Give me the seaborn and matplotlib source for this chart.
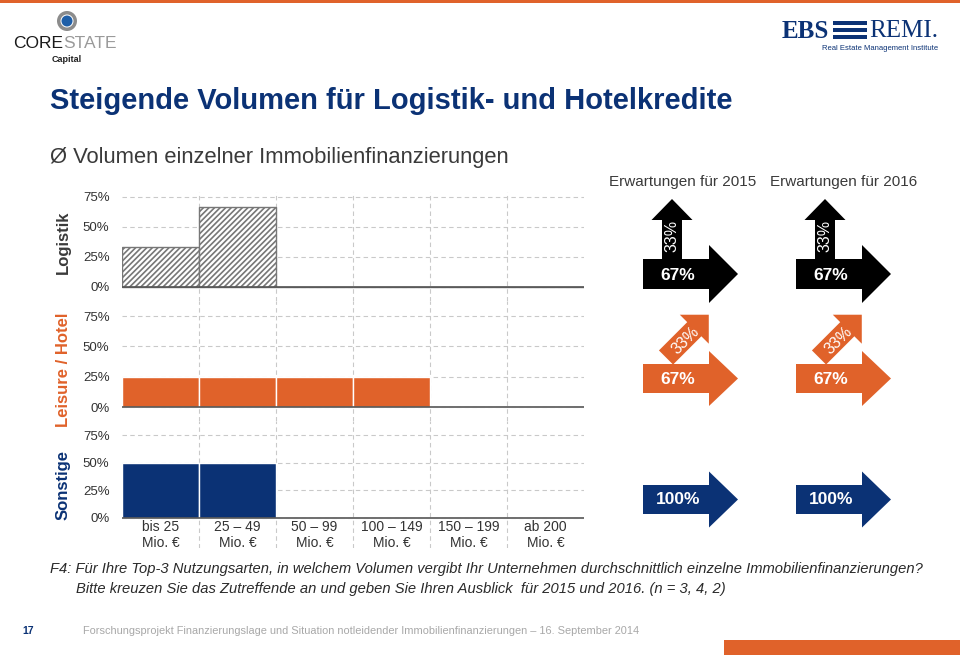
import numpy as np
import pandas as pd
import matplotlib
matplotlib.use("Agg")
import matplotlib.pyplot as plt
from matplotlib.patches import Polygon, Rectangle, Circle
from matplotlib.ticker import FixedLocator, PercentFormatter
import seaborn as sns

# data
categories = ["bis 25\nMio. €", "25 – 49\nMio. €", "50 – 99\nMio. €",
              "100 – 149\nMio. €", "150 – 199\nMio. €", "ab 200\nMio. €"]
logistik = [0.33, 0.67, 0, 0, 0, 0]
leisure = [0.25, 0.25, 0.25, 0.25, 0, 0]
sonstige = [0.50, 0.50, 0, 0, 0, 0]

years = ["2015", "2016"]
logistik_flat = [67, 67]
logistik_up = [33, 33]
leisure_flat = [67, 67]
leisure_up = [33, 33]
sonstige_flat = [100, 100]

ORANGE = "#E0622A"
NAVY = "#0B3275"
DARK = "#333333"
GRID = "#c9c9c9"

sns.set_theme(style="white")
plt.rcParams["font.family"] = ["Liberation Sans", "DejaVu Sans"]
plt.rcParams["hatch.linewidth"] = 1.2

W, H = 960, 655
fig = plt.figure(figsize=(W / 100, H / 100), dpi=100)


def rect(l, t, r, b):
    return [l / W, 1 - b / H, (r - l) / W, (b - t) / H]


def panel(vals, top, bottom, zero_px, px_per_unit, style, label, lcolor, label_y, last=False):
    ax = fig.add_axes(rect(122, top, 584, bottom))
    df = pd.DataFrame({"cat": categories, "val": vals})
    if style == "hatch":
        sns.barplot(data=df, x="cat", y="val", ax=ax, color="white", width=1,
                    edgecolor="#777777", linewidth=1.0, saturation=1)
        for p in ax.patches:
            p.set_hatch("//////")
    else:
        sns.barplot(data=df, x="cat", y="val", ax=ax, color=style, width=1,
                    edgecolor="white", linewidth=1.0, saturation=1)
    ax.set_xlim(-0.5, 5.5)
    ax.set_ylim(-(bottom - zero_px) / px_per_unit, (zero_px - top) / px_per_unit)
    ax.set_yticks([0, 0.25, 0.5, 0.75])
    ax.yaxis.set_major_formatter(PercentFormatter(1.0, decimals=0))
    ax.xaxis.set_minor_locator(FixedLocator([0.5, 1.5, 2.5, 3.5, 4.5]))
    ax.grid(True, axis="y", which="major", color=GRID, ls=(0, (4, 3)), lw=0.8)
    ax.grid(True, axis="x", which="minor", color=GRID, ls=(0, (4, 3)), lw=0.8)
    ax.grid(False, axis="x", which="major")
    ax.set_axisbelow(True)
    ax.axhline(0, color="#555555", lw=1.2, zorder=3)
    ax.patch.set_alpha(0)
    for s in ax.spines.values():
        s.set_visible(False)
    ax.tick_params(axis="y", length=0, pad=9, labelsize=9.5, labelcolor=DARK)
    ax.set_xlabel("")
    ax.set_ylabel("")
    if last:
        ax.tick_params(axis="x", which="major", length=0, pad=-20,
                       labelsize=10, labelcolor=DARK)
    else:
        ax.set_xticklabels([])
        ax.tick_params(axis="x", length=0)
    ax.tick_params(axis="x", which="minor", length=0)
    fig.text(63 / W, 1 - label_y / H, label, rotation=90, ha="center", va="center",
             fontsize=12, fontweight="bold", color=lcolor)
    return ax


panel(logistik, 192, 301, 287, 30 / 0.25, "hatch", "Logistik", "#3a3a3a", 242)
panel(leisure, 301, 421, 407, 91 / 0.75, ORANGE, "Leisure / Hotel", ORANGE, 370)
panel(sonstige, 421, 548, 518, 83 / 0.75, NAVY, "Sonstige", NAVY, 485, last=True)

# overlay in pixel coordinates
ov = fig.add_axes([0, 0, 1, 1], zorder=5)
ov.set_xlim(0, W)
ov.set_ylim(H, 0)
ov.axis("off")
ov.patch.set_alpha(0)

ov.add_patch(Rectangle((0, 0), W, 2.5, color=ORANGE, lw=0))
ov.add_patch(Rectangle((724, 640), W - 724, 15, color=ORANGE, lw=0))

# logos
ov.add_patch(Circle((67, 21), 10, color="#8c8c8c", lw=0))
ov.add_patch(Circle((67, 21), 6.5, color="white", lw=0))
ov.add_patch(Circle((67, 21), 5.5, color="#1f5fa8", lw=0))
ov.text(63, 44, "CORE", fontsize=12.5, color="#1a1a1a", va="center", ha="right")
ov.text(63, 44, "STATE", fontsize=12.5, color="#9a9a9a", va="center", ha="left")
ov.text(67, 59, "Capital", fontsize=6.5, color="#222222", ha="center", va="center",
        fontweight="bold")
ov.text(782, 31, "EBS", fontsize=18, color=NAVY, ha="left", va="center",
        fontweight="bold", family=["Liberation Serif", "DejaVu Serif"])
for yy in (23, 30, 37):
    ov.add_patch(Rectangle((833, yy - 2.3), 34, 4.6, color=NAVY, lw=0))
ov.text(869, 31, "REMI.", fontsize=18, color=NAVY, ha="left", va="center",
        family=["Liberation Serif", "DejaVu Serif"])
ov.text(938, 48, "Real Estate Management Institute", fontsize=5.5, color=NAVY,
        ha="right", va="center")

# titles
ov.text(50, 101, "Steigende Volumen für Logistik- und Hotelkredite", fontsize=21,
        fontweight="bold", color=NAVY, ha="left", va="center")
ov.text(50, 157, "Ø Volumen einzelner Immobilienfinanzierungen", fontsize=15.8,
        color="#3a3a3a", ha="left", va="center")


def arrow(tail, ang, body_len, body_w, head_len, head_w, color):
    t = np.radians(ang)
    d = np.array([np.cos(t), -np.sin(t)])
    n = np.array([-d[1], d[0]])
    p0 = np.array(tail, float)
    p1 = p0 + d * body_len
    pts = [p0 + n * body_w / 2, p1 + n * body_w / 2, p1 + n * head_w / 2,
           p1 + d * head_len, p1 - n * head_w / 2, p1 - n * body_w / 2,
           p0 - n * body_w / 2]
    ov.add_patch(Polygon(pts, closed=True, color=color, lw=0))


starts = [643, 796]
for i, yr in enumerate(years):
    x0 = starts[i]
    ov.text(x0 + 40 + (i * 8), 182, f"Erwartungen für {yr}", fontsize=11,
            color="#3a3a3a", ha="center", va="center")
    # Logistik
    arrow((x0 + 29, 262), 90, 42, 20, 21, 41, "black")
    arrow((x0, 274), 0, 66, 30, 29, 58, "black")
    ov.text(x0 + 35, 275, f"{logistik_flat[i]}%", fontsize=12.5, fontweight="bold",
            color="white", ha="center", va="center")
    ov.text(x0 + 29, 236, f"{logistik_up[i]}%", fontsize=11.5, rotation=90,
            color="white", ha="center", va="center")
    # Leisure / Hotel
    arrow((x0 + 23, 357.5), 45, 40, 20, 20.5, 41, ORANGE)
    arrow((x0, 378.5), 0, 66, 29, 29, 55, ORANGE)
    ov.text(x0 + 35, 379, f"{leisure_flat[i]}%", fontsize=12.5, fontweight="bold",
            color="white", ha="center", va="center")
    ov.text(x0 + 43, 340, f"{leisure_up[i]}%", fontsize=11.5, rotation=45,
            color="white", ha="center", va="center")
    # Sonstige
    arrow((x0, 499.5), 0, 66, 29, 29, 56, NAVY)
    ov.text(x0 + 35, 500, f"{sonstige_flat[i]}%", fontsize=12.5, fontweight="bold",
            color="white", ha="center", va="center")

ov.text(50, 569, "F4: Für Ihre Top-3 Nutzungsarten, in welchem Volumen vergibt Ihr "
        "Unternehmen durchschnittlich einzelne Immobilienfinanzierungen?",
        fontsize=10.6, style="italic", color="#2a2a2a", ha="left", va="center")
ov.text(76, 589, "Bitte kreuzen Sie das Zutreffende an und geben Sie Ihren Ausblick  "
        "für 2015 und 2016. (n = 3, 4, 2)",
        fontsize=10.6, style="italic", color="#2a2a2a", ha="left", va="center")
ov.text(22, 631, "17", fontsize=7.5, fontweight="bold", color=NAVY, ha="left",
        va="center")
ov.text(83, 631, "Forschungsprojekt Finanzierungslage und Situation notleidender "
        "Immobilienfinanzierungen – 16. September 2014", fontsize=7.9,
        color="#a8a8a8", ha="left", va="center")

fig.savefig("out.png", dpi=100)
